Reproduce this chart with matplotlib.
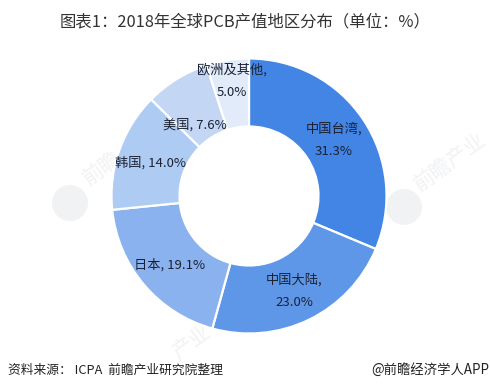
import matplotlib
matplotlib.use('Agg')
import matplotlib.pyplot as plt
from matplotlib.patches import Circle

plt.rcParams['font.family'] = ['Noto Sans CJK SC', 'DejaVu Sans']

regions = ['中国台湾,\n31.3%', '中国大陆,\n23.0%', '日本, 19.1%', '韩国, 14.0%', '美国, 7.6%', '欧洲及其他,\n5.0%']
shares = [31.3, 23.0, 19.1, 14.0, 7.6, 5.0]
colors = ['#4285e4', '#5f97e8', '#8ab2ee', '#aecbf4', '#c3d7f5', '#e2ebfa']

title = '图表1：2018年全球PCB产值地区分布（单位：%）'
source = '资料来源： ICPA  前瞻产业研究院整理'
brand = '@前瞻经济学人APP'
watermarks = ['前瞻', '前瞻产业', '产业']

W, H = 490, 388
fig = plt.figure(figsize=(W / 100, H / 100), dpi=100, facecolor='white')

# pixel-coordinate layer for the faint watermark, sits behind the pie
bg = fig.add_axes([0, 0, 1, 1])
bg.set_xlim(0, W)
bg.set_ylim(H, 0)
bg.axis('off')
for cx, cy in [(70, 203), (404, 207)]:
    bg.add_patch(Circle((cx, cy), 18, color='#f1f2f4', lw=0))
for mark, (wx, wy) in zip(watermarks, [(102, 168), (450, 162), (192, 342)]):
    bg.text(wx, wy, mark, ha='center', va='center', fontsize=15, rotation=36, color='#f1f2f4')

# pie centre about (249, 196), outer radius about 137 px
ax = fig.add_axes([(249 - 150) / W, 1 - (196 + 150) / H, 300 / W, 300 / H])
wedges, texts = ax.pie(shares, colors=colors, startangle=90, counterclock=False,
                       radius=137.5, frame=True,
                       wedgeprops=dict(width=68, edgecolor='white', linewidth=1.6))
ax.set_xlim(-150, 150)
ax.set_ylim(-150, 150)
ax.axis('off')

label_pos = [(85, 56), (45, -95), (-79.5, -69), (-99, 33), (-54.5, 71), (-17, 115)]
for lab, (x, y) in zip(regions, label_pos):
    ax.text(x, y, lab, ha='center', va='center', fontsize=9.5, color='#1c2233',
            linespacing=1.9, zorder=5)

fig.text(245 / W, 1 - 23 / H, title, ha='center', va='center', fontsize=11.8, color='#333333')
fig.text(8 / W, 1 - 370 / H, source, ha='left', va='center', fontsize=9.2, style='italic', color='#222222')
fig.text(489 / W, 1 - 370 / H, brand, ha='right', va='center', fontsize=9.6, color='#222222')

fig.savefig('out.png', dpi=100)
